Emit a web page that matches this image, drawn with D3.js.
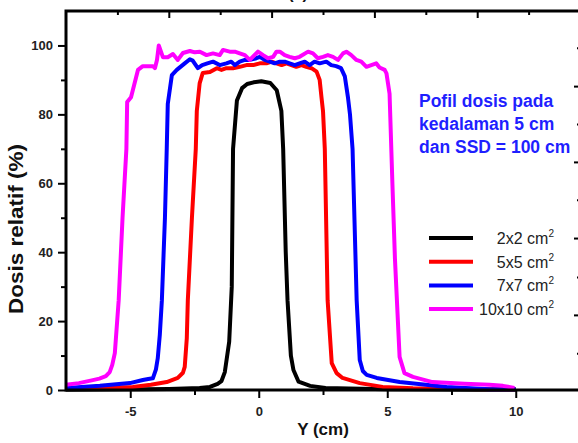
<!DOCTYPE html>
<html>
<head>
<meta charset="utf-8">
<script src="https://cdn.jsdelivr.net/npm/d3@7"></script>
<style>
    body { margin: 0; background: #fff; }
    text { font-family: Arial, "Liberation Sans", sans-serif; }
</style>
</head>
<body>
<div id="graph1"></div>
<script>
// profile data: [Y (cm), relative dose (%)]
var profile2x2 = [
    [-7.5,0.1],[-6,0.15],[-4.5,0.2],[-3.5,0.3],[-2.9,0.45],[-2.3,0.6],[-1.9,0.9],[-1.6,1.8],
    [-1.45,2.6],[-1.32,5.2],[-1.15,14],[-1.05,30],[-1.0,70],[-0.85,84],[-0.65,87.6],[-0.45,88.8],
    [-0.2,89.3],[0.1,89.6],[0.45,89.1],[0.7,87],[0.88,81],[0.95,70],[1.05,40],[1.12,26],
    [1.25,10],[1.35,5.8],[1.55,2.4],[2.0,1.2],[2.6,0.6],[3.5,0.4],[5,0.25],[7,0.15],[8.5,0.1],[10,0.1]
];
var profile5x5 = [
    [-7.5,0.3],[-6.2,0.6],[-4.9,0.9],[-4.2,1.5],[-3.58,2.3],[-3.15,3.5],[-2.95,5],[-2.88,6.7],
    [-2.8,15],[-2.76,26],[-2.6,50],[-2.45,70],[-2.41,81],[-2.3,89],[-2.18,92],[-1.9,92.3],
    [-1.63,93.4],[-1.45,92.9],[-1.26,93.4],[-1.0,93.4],[-0.74,93.8],[-0.48,94.3],[-0.22,94.3],
    [0.04,94.8],[0.3,94.8],[0.5,95.3],[0.69,94.8],[0.89,94.3],[1.08,94.8],[1.27,94.3],[1.46,93.8],
    [1.66,94.3],[1.85,93.8],[2.05,93.4],[2.25,92.4],[2.37,90],[2.44,85],[2.5,81],[2.57,70],
    [2.68,26],[2.84,7.8],[3.03,4.9],[3.26,3.5],[3.93,2.0],[4.82,0.9],[6,0.5],[8,0.3],[10,0.2]
];
var profile7x7 = [
    [-7.46,0.6],[-6.18,1.2],[-5.01,2.0],[-4.51,2.9],[-4.3,3.2],[-4.12,3.4],[-4.0,6],[-3.93,9.2],
    [-3.85,16],[-3.77,26],[-3.65,50],[-3.58,70],[-3.54,83],[-3.38,91.4],[-3.19,92.9],[-2.88,94.8],
    [-2.68,96],[-2.57,95.6],[-2.37,93.4],[-2.2,94.3],[-2.0,94.8],[-1.78,95.3],[-1.52,94.3],
    [-1.26,94.8],[-1.07,95.3],[-0.93,94.3],[-0.74,95.3],[-0.54,95.8],[-0.35,95.8],[-0.09,96.3],
    [0.04,96.7],[0.23,95.8],[0.43,95.3],[0.62,94.8],[0.82,95.3],[1.01,95.3],[1.2,94.8],[1.4,94.3],
    [1.59,94.8],[1.79,95.3],[1.98,94.3],[2.17,95.3],[2.37,94.8],[2.63,95.3],[2.82,94.3],[3.01,94.0],
    [3.2,93.4],[3.35,91],[3.47,85],[3.55,80],[3.65,70],[3.81,26],[3.93,8.7],[4.05,5.5],[4.2,4.4],
    [4.59,3.5],[5.48,2.3],[6.5,1.5],[7.31,0.9],[8.98,0.2],[10,0.2]
];
var profile10x10 = [
    [-7.5,1.5],[-7.0,2.0],[-6.5,2.8],[-6.2,3.3],[-5.95,4.0],[-5.8,5.2],[-5.7,7.3],[-5.6,10.7],
    [-5.45,26],[-5.3,50],[-5.15,70],[-5.12,83.6],[-4.97,85],[-4.7,92.9],[-4.51,94],[-4.12,94],
    [-4.04,93.4],[-3.96,95.8],[-3.89,100],[-3.73,96.6],[-3.54,96.6],[-3.34,97.5],[-3.15,95.8],
    [-2.95,97.8],[-2.68,98.4],[-2.49,98],[-2.29,98.2],[-2.03,97.2],[-1.78,97.7],[-1.52,97.2],
    [-1.39,98.7],[-1.13,98.2],[-0.93,98.2],[-0.74,97.7],[-0.54,97.2],[-0.35,95.8],[-0.03,98.2],
    [0.17,97.2],[0.36,96.3],[0.56,96.7],[0.69,98.2],[0.82,98.2],[1.01,97.2],[1.2,96.7],[1.4,96.3],
    [1.59,96.7],[1.92,98.2],[2.11,97.7],[2.3,96.3],[2.5,96.7],[2.69,97.2],[2.89,96.7],[3.08,95.8],
    [3.28,97.7],[3.41,98.2],[3.6,97.2],[3.8,95.8],[3.99,95.3],[4.19,93.8],[4.38,94.3],[4.57,94.8],
    [4.7,93.6],[4.9,92.9],[4.97,91.9],[5.09,86],[5.2,60],[5.3,38],[5.48,9.6],[5.67,4.9],[6.0,3.8],
    [6.76,2.3],[8.0,1.8],[8.98,1.5],[9.5,1.2],[9.95,0.6]
];

var seriesNames = ["2x2 cm", "5x5 cm", "7x7 cm", "10x10 cm"];
var seriesColors = ["#000000", "#ff0000", "#0000ff", "#ff00ff"];
var seriesData = [profile2x2, profile5x5, profile7x7, profile10x10];

var xDomain = [-7.5, 12.5];
var yDomain = [0, 110];
var xMajorTicks = [-5, 0, 5, 10];
var xMinorTicks = [-2.5, 2.5, 7.5];
var yMajorTicks = [0, 20, 40, 60, 80, 100];
var yMinorTicks = [10, 30, 50, 70, 90];
var topLongTicks = [-3.5, 0.5, 4.5, 8.5];
var topShortTicks = [-5.5, -1.5, 2.5, 6.5, 10.5];
var rightLongTicks = [88.2, 66.2, 44.1, 21.8];
var rightShortTicks = [99.3, 77.2, 55.2, 32.8, 10.7];
var noteLines = ["Pofil dosis pada", "kedalaman 5 cm", "dan SSD = 100 cm"];

var w = 578;
var h = 443;
var margin = {
    top: 11,
    bottom: 53,
    left: 66,
    right: -2
};
var width = w - margin.left - margin.right;
var height = h - margin.top - margin.bottom;

var svg = d3.select("#graph1").append("svg")
    .attr("width", w)
    .attr("height", h);
svg.append("rect")
    .attr("width", w)
    .attr("height", h)
    .attr("fill", "#fff");

var chart = svg.append("g")
    .attr("transform", "translate(" + margin.left + "," + margin.top + ")");

var x = d3.scaleLinear().domain(xDomain).range([0, width]);
var y = d3.scaleLinear().domain(yDomain).range([height, 0]);

var line = d3.line()
    .x(function(d){ return x(d[0]); })
    .y(function(d){ return y(d[1]); });

// curves
chart.selectAll(".trendline")
    .data(seriesData)
    .enter()
    .append("path")
    .classed("trendline", true)
    .attr("d", function(d){ return line(d); })
    .attr("fill", "none")
    .attr("stroke", function(d, i){ return seriesColors[i]; })
    .attr("stroke-width", 4)
    .attr("stroke-linejoin", "round");

// axes
function styleAxis(g){
    g.select(".domain").remove();
    g.selectAll("line").attr("stroke", "#000").attr("stroke-width", 2);
    g.selectAll("text")
        .style("font-size", "13px")
        .style("font-weight", "bold")
        .attr("fill", "#222");
}

chart.append("g")
    .attr("transform", "translate(0," + height + ")")
    .call(d3.axisBottom(x).tickValues(xMajorTicks).tickSize(8).tickPadding(9)
        .tickFormat(function(d){ return d < 0 ? "-" + Math.abs(d) : d; }))
    .call(styleAxis);
chart.append("g")
    .attr("transform", "translate(0," + height + ")")
    .call(d3.axisBottom(x).tickValues(xMinorTicks).tickSize(5).tickFormat(""))
    .call(styleAxis);
chart.append("g")
    .call(d3.axisLeft(y).tickValues(yMajorTicks).tickSize(8).tickPadding(5))
    .call(styleAxis);
chart.append("g")
    .call(d3.axisLeft(y).tickValues(yMinorTicks).tickSize(5).tickFormat(""))
    .call(styleAxis);
chart.append("g")
    .call(d3.axisTop(x).tickValues(topLongTicks).tickSize(-7).tickFormat(""))
    .call(styleAxis);
chart.append("g")
    .call(d3.axisTop(x).tickValues(topShortTicks).tickSize(-4).tickFormat(""))
    .call(styleAxis);
chart.append("g")
    .attr("transform", "translate(" + width + ",0)")
    .call(d3.axisRight(y).tickValues(rightLongTicks).tickSize(-6).tickFormat(""))
    .call(styleAxis);
chart.append("g")
    .attr("transform", "translate(" + width + ",0)")
    .call(d3.axisRight(y).tickValues(rightShortTicks).tickSize(-3).tickFormat(""))
    .call(styleAxis);

// frame
chart.append("rect")
    .attr("x", 0)
    .attr("y", 0)
    .attr("width", width)
    .attr("height", height)
    .attr("fill", "none")
    .attr("stroke", "#000")
    .attr("stroke-width", 3);

// axis titles
svg.append("text")
    .attr("transform", "translate(23,229) rotate(-90)")
    .style("text-anchor", "middle")
    .style("font-size", "20px")
    .style("font-weight", "bold")
    .attr("textLength", 170)
    .attr("lengthAdjust", "spacingAndGlyphs")
    .attr("fill", "#111")
    .text("Dosis relatif (%)");
svg.append("text")
    .attr("x", 323)
    .attr("y", 435)
    .style("text-anchor", "middle")
    .style("font-size", "17px")
    .style("font-weight", "bold")
    .attr("fill", "#111")
    .text("Y (cm)");
svg.append("text")
    .attr("x", 298)
    .attr("y", -1)
    .style("text-anchor", "middle")
    .style("font-size", "16px")
    .style("font-weight", "bold")
    .attr("fill", "#111")
    .text("(a)");

// note
svg.append("g").selectAll("text")
    .data(noteLines)
    .enter()
    .append("text")
    .attr("x", 419)
    .attr("y", function(d, i){ return 107 + i * 23; })
    .style("font-size", "17.5px")
    .style("font-weight", "bold")
    .attr("fill", "#1f1fff")
    .text(function(d){ return d; });

// legend
var legend = svg.append("g").selectAll("g")
    .data(seriesNames)
    .enter()
    .append("g")
    .attr("transform", function(d, i){ return "translate(0," + (238 + i * 23.7) + ")"; });
legend.append("line")
    .attr("x1", 429)
    .attr("x2", 473)
    .attr("stroke", function(d, i){ return seriesColors[i]; })
    .attr("stroke-width", 4);
var lt = legend.append("text")
    .attr("x", 554)
    .attr("y", 6)
    .style("text-anchor", "end")
    .style("font-size", "16px")
    .attr("fill", "#222");
lt.append("tspan").text(function(d){ return d; });
lt.append("tspan")
    .attr("dy", -7)
    .style("font-size", "10px")
    .text("2");
</script>
</body>
</html>
